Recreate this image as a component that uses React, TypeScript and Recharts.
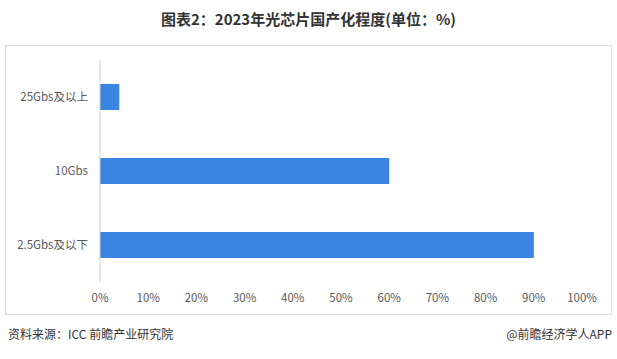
import React from 'react';
import { BarChart, Bar, XAxis, YAxis } from 'recharts';

const categories = ['25Gbs及以上', '10Gbs', '2.5Gbs及以下'];
const values = [4, 60, 90];
const xTicks = [0, 10, 20, 30, 40, 50, 60, 70, 80, 90, 100];

const title = '图表2：2023年光芯片国产化程度(单位：%)';
const source = '资料来源：ICC 前瞻产业研究院';
const credit = '@前瞻经济学人APP';

const data = categories.map((name, i) => ({ name, value: values[i] }));

const FONT = '"Noto Sans CJK SC", "Noto Sans", sans-serif';

export default function App() {
  return (
    <div style={{ position: 'absolute', left: 0, top: 0, width: 617, height: 359, background: '#fff', fontFamily: FONT, overflow: 'hidden' }}>
      <div style={{ position: 'absolute', left: 0, top: 8, width: 617, textAlign: 'center', fontSize: 15, fontWeight: 'bold', color: '#333', lineHeight: '22px' }}>
        {title}
      </div>
      <div style={{ position: 'absolute', left: 5, top: 45, width: 605, height: 268, border: '1px solid #dcdcdc' }} />
      <div style={{ position: 'absolute', left: 0, top: 0 }}>
        <BarChart width={617} height={359} data={data} layout="vertical" margin={{ top: 60, right: 35, bottom: 47, left: 0 }}>
          <XAxis
            type="number"
            domain={[0, 100]}
            ticks={xTicks}
            tickFormatter={(v: number) => `${v}%`}
            axisLine={false}
            tickLine={false}
            tickMargin={6}
            height={30}
            interval={0}
            tick={{ fontSize: 11.5, fill: '#595959', fontFamily: FONT }}
          />
          <YAxis
            type="category"
            dataKey="name"
            width={100}
            axisLine={{ stroke: '#d0d0d0' }}
            tickLine={false}
            tickMargin={6}
            tick={{ fontSize: 11.5, fill: '#595959', fontFamily: FONT }}
          />
          <Bar dataKey="value" fill="#3a85e2" barSize={26} isAnimationActive={false} />
        </BarChart>
      </div>
      <div style={{ position: 'absolute', left: 8, top: 326, fontSize: 12, color: '#333', lineHeight: '16px' }}>{source}</div>
      <div style={{ position: 'absolute', right: 5, top: 326, fontSize: 12, color: '#333', lineHeight: '16px' }}>{credit}</div>
    </div>
  );
}
